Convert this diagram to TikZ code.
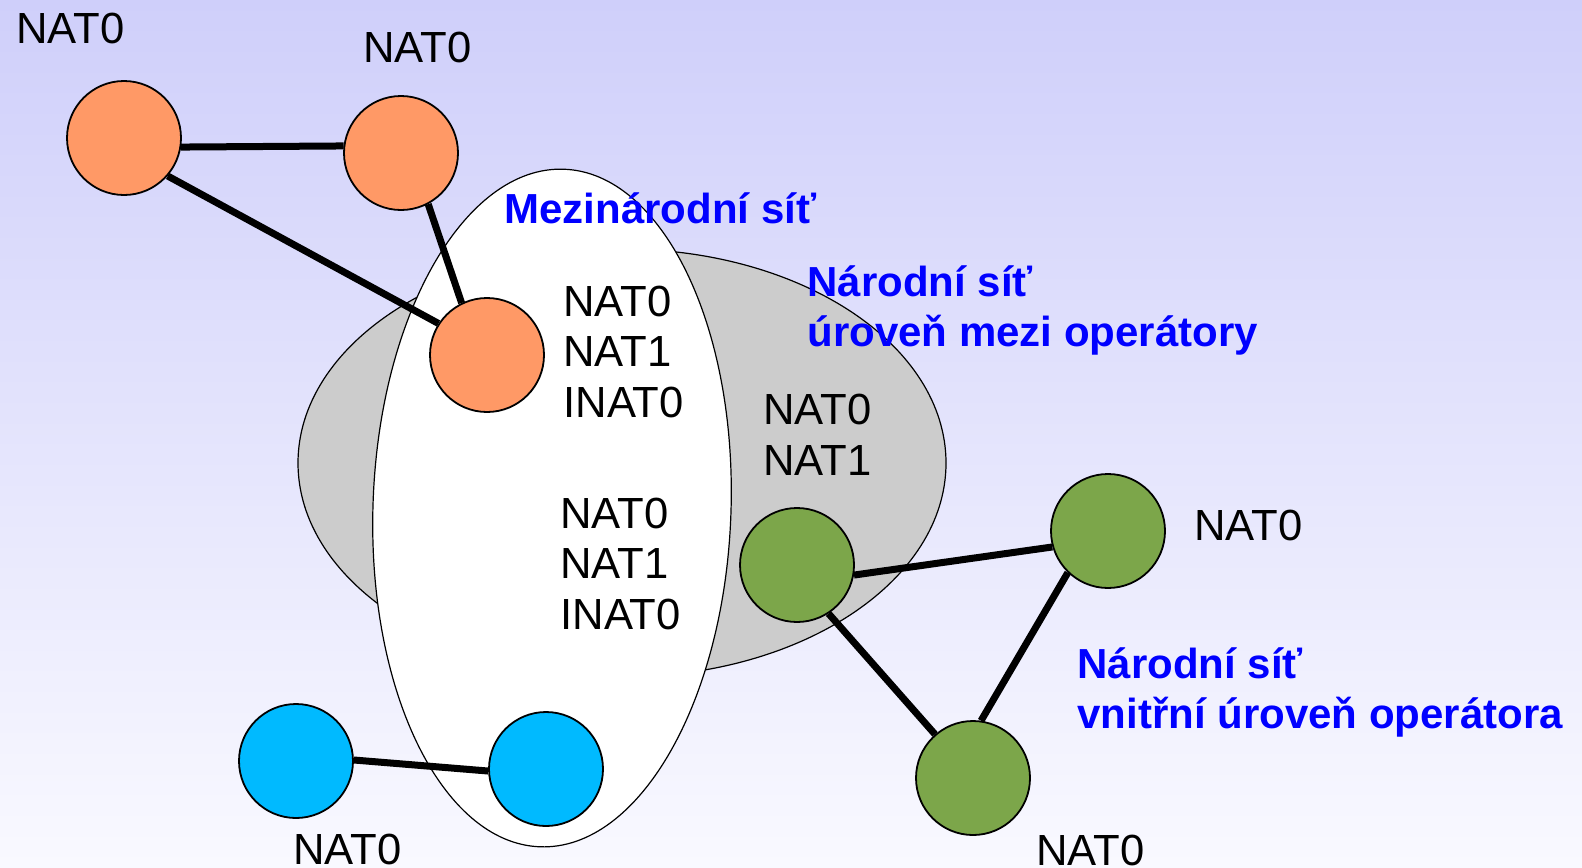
\documentclass[tikz,border=0pt]{standalone}
\usepackage{fontspec}
\setmainfont{Liberation Sans}
\definecolor{bgtop}{RGB}{207,207,250}
\definecolor{bgbot}{RGB}{249,249,255}
\definecolor{orangec}{RGB}{255,153,102}
\definecolor{greenc}{RGB}{124,166,74}
\definecolor{bluec}{RGB}{0,186,255}
\definecolor{grayc}{RGB}{204,204,204}
\definecolor{labelblue}{RGB}{0,0,255}
\tikzset{
  station/.style={circle, draw=black, line width=0.9pt, minimum size=57pt, inner sep=0pt},
  link/.style={line width=3.5pt, line cap=butt},
  lbl/.style={anchor=base west, inner sep=0pt, align=left, font=\fontsize{21.8pt}{25.2pt}\selectfont},
  netlbl/.style={lbl, text=labelblue, font=\fontsize{21pt}{25pt}\selectfont\bfseries},
  region/.style={draw=black, line width=0.6pt}
}
\begin{document}
\begin{tikzpicture}[x=0.5pt,y=-0.5pt]
\useasboundingbox (0,0) rectangle (1582,867);
\shade[top color=bgtop,bottom color=bgbot] (0,0) rectangle (1582,867);
% regions
\draw[region, fill=grayc] (622,463) ellipse [x radius=162pt, y radius=107pt];
\draw[region, fill=white, rotate around={-2:(552,508)}] (552,508) ellipse [x radius=89.5pt, y radius=169.5pt];
% stations
\node[station, fill=orangec] (o1) at (124,138) {};
\node[station, fill=orangec] (o2) at (401,153) {};
\node[station, fill=orangec] (o3) at (487,355) {};
\node[station, fill=greenc] (g1) at (797,565) {};
\node[station, fill=greenc] (g2) at (1108,531) {};
\node[station, fill=greenc] (g3) at (973,778) {};
\node[station, fill=bluec] (b1) at (296,761) {};
\node[station, fill=bluec] (b2) at (546,769) {};
% links
\draw[link] (o1.-9) -- (o2.173);
\draw[link] (o1.-41) -- (o3.147);
\draw[link] (o2.-62) -- (o3.116);
\draw[link] (g1.-10) -- (g2.196);
\draw[link] (g1.-57) -- (g3.131);
\draw[link] (g2.-134) -- (g3.82);
\draw[link] (b1.1) -- (b2.182);
% labels (base anchor = baseline of last line)
\node[lbl] (t1) at (16,43) {NAT0};
\node[lbl] (t2) at (363,62) {NAT0};
\node[lbl] (t3) at (563,417) {NAT0\\NAT1\\INAT0};
\node[lbl] (t4) at (560,629) {NAT0\\NAT1\\INAT0};
\node[lbl] (t5) at (763,475) {NAT0\\NAT1};
\node[lbl] (t6) at (1194,540) {NAT0};
\node[lbl] (t7) at (1036,865) {NAT0};
\node[lbl] (t8) at (293,864) {NAT0};
\node[netlbl] (n1) at (504,223) {Mezinárodní síť};
\node[netlbl] (n2) at (807,346) {Národní síť\\úroveň mezi operátory};
\node[netlbl] (n3) at (1077,728) {Národní síť\\vnitřní úroveň operátora};
\end{tikzpicture}
\end{document}
